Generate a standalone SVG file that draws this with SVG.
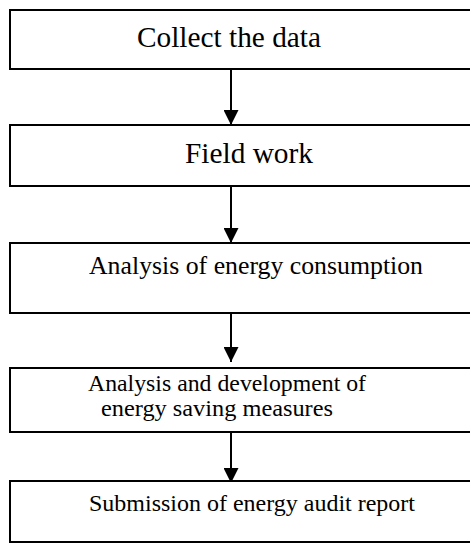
<svg xmlns="http://www.w3.org/2000/svg" width="470" height="543" viewBox="0 0 470 543">
  <defs>
    <style>
      .box { fill: #ffffff; stroke: #000000; stroke-width: 2; }
      .lbl { font-family: 'Liberation Serif', 'Times New Roman', Times, serif; fill: #000000; }
      .big { font-size: 29px; }
      .mid { font-size: 25px; }
      .sm { font-size: 24px; }
      .conn { stroke: #000000; stroke-width: 2; fill: none; }
    </style>
    <marker id="arr" viewBox="0 0 10 10" refX="10" refY="5" markerWidth="15" markerHeight="15" markerUnits="userSpaceOnUse" orient="auto">
      <path d="M0,0 L10,5 L0,10 Z" fill="#000000"/>
    </marker>
  </defs>
  <rect width="470" height="543" fill="#ffffff"/>

  <g id="connectors">
    <line class="conn" x1="231" y1="69" x2="231" y2="125" marker-end="url(#arr)"/>
    <line class="conn" x1="231" y1="186" x2="231" y2="243" marker-end="url(#arr)"/>
    <line class="conn" x1="231" y1="310" x2="231" y2="362" marker-end="url(#arr)"/>
    <line class="conn" x1="231" y1="432" x2="231" y2="483" marker-end="url(#arr)"/>
  </g>

  <g id="node-collect">
    <rect class="box" x="10" y="10" width="470" height="59"/>
    <text class="lbl big" font-family="Liberation Serif, serif" x="137" y="47" textLength="184" lengthAdjust="spacingAndGlyphs">Collect the data</text>
  </g>
  <g id="node-field">
    <rect class="box" x="10" y="125" width="470" height="61"/>
    <text class="lbl big" font-family="Liberation Serif, serif" x="185" y="163" textLength="128" lengthAdjust="spacingAndGlyphs">Field work</text>
  </g>
  <g id="node-analysis">
    <rect class="box" x="10" y="243" width="470" height="70"/>
    <text class="lbl mid" font-family="Liberation Serif, serif" x="89" y="274" textLength="334" lengthAdjust="spacingAndGlyphs">Analysis of energy consumption</text>
  </g>
  <g id="node-measures">
    <rect class="box" x="10" y="368" width="470" height="64"/>
    <text class="lbl sm" font-family="Liberation Serif, serif" x="88" y="391" textLength="278" lengthAdjust="spacingAndGlyphs">Analysis and development of</text>
    <text class="lbl sm" font-family="Liberation Serif, serif" x="101" y="416" textLength="232" lengthAdjust="spacingAndGlyphs">energy saving measures</text>
  </g>
  <g id="node-report">
    <rect class="box" x="10" y="481" width="470" height="61"/>
    <text class="lbl sm" font-family="Liberation Serif, serif" x="89" y="511" textLength="326" lengthAdjust="spacingAndGlyphs">Submission of energy audit report</text>
  </g>
</svg>
